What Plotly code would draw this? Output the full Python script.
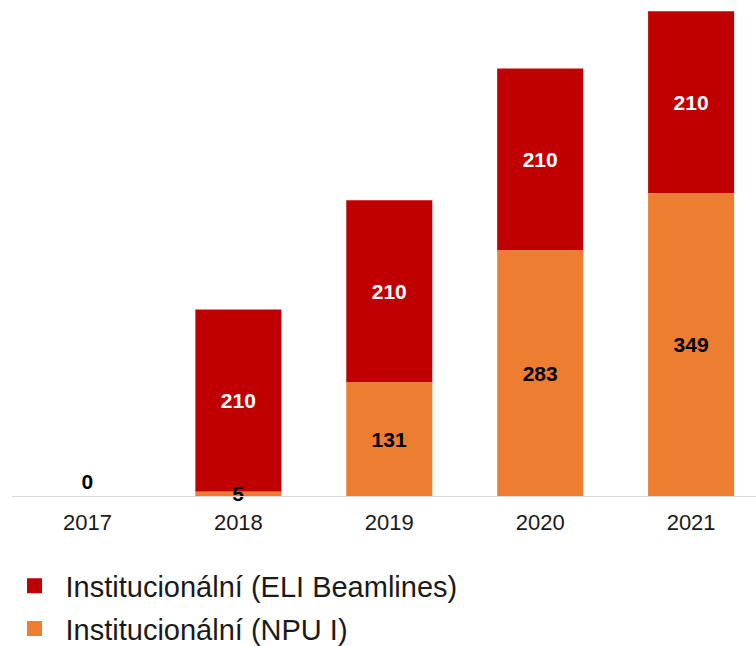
import plotly.graph_objects as go

years = ["2017", "2018", "2019", "2020", "2021"]
npu = [0, 5, 131, 283, 349]
eli = [None, 210, 210, 210, 210]

RED = "#C00000"
ORANGE = "#ED7D31"
FONT = "Liberation Sans, Arial, sans-serif"

fig = go.Figure()
# ELI stacked on top of NPU (base = NPU values); drawn first so NPU labels stay on top
fig.add_trace(go.Bar(
    x=years, y=eli, base=npu, name="Institucionální (ELI Beamlines)",
    marker=dict(color=RED, line=dict(width=0)),
    text=[("" if v is None else str(v)) for v in eli],
    textposition="inside",
    insidetextanchor="middle",
    constraintext="none", textangle=0,
    textfont=dict(family=FONT, size=21, color="white", weight="bold"),
    cliponaxis=False, showlegend=False, width=0.57,
))
fig.add_trace(go.Bar(
    x=years, y=npu, name="Institucionální (NPU I)",
    marker=dict(color=ORANGE, line=dict(width=0)),
    text=[str(v) for v in npu],
    textposition=["outside", "inside", "inside", "inside", "inside"],
    insidetextanchor="middle",
    constraintext="none", textangle=0,
    textfont=dict(family=FONT, size=21, color="black", weight="bold"),
    outsidetextfont=dict(family=FONT, size=21, color="black", weight="bold"),
    insidetextfont=dict(family=FONT, size=21, color="black", weight="bold"),
    cliponaxis=False, showlegend=False, width=0.57,
))
# legend entries
fig.add_trace(go.Scatter(x=[None], y=[None], mode="markers", name="Institucionální (ELI Beamlines)",
                         marker=dict(symbol="square", size=15, color=RED), legendgroup="a"))
fig.add_trace(go.Scatter(x=[None], y=[None], mode="markers", name="Institucionální (NPU I)",
                         marker=dict(symbol="square", size=15, color=ORANGE), legendgroup="b"))

fig.update_layout(
    width=756, height=646,
    margin=dict(l=11.5, r=0, t=0, b=149.5, autoexpand=False),
    barmode="overlay",
    plot_bgcolor="white", paper_bgcolor="white",
    font=dict(family=FONT, color="black"),
    uniformtext=dict(minsize=21, mode="show"),
    xaxis=dict(type="category", range=[-0.5, 4.43], showline=True, linecolor="#D9D9D9",
               linewidth=1, ticks="", showgrid=False, zeroline=False, automargin=False,
               ticklabelstandoff=7,
               tickfont=dict(family=FONT, size=22, color="#1a1a1a")),
    yaxis=dict(range=[0, 572], visible=False, showgrid=False, zeroline=False, automargin=False),
    legend=dict(x=-0.0114, xanchor="left", y=-0.13, yanchor="top", orientation="v",
                traceorder="grouped", tracegroupgap=2, itemwidth=52,
                font=dict(family=FONT, size=29, color="#1a1a1a"),
                itemsizing="trace", bgcolor="rgba(0,0,0,0)"),
    showlegend=True,
)

fig.write_html("out.html", config={"displayModeBar": False},
               post_script="document.body.style.margin='0';")
